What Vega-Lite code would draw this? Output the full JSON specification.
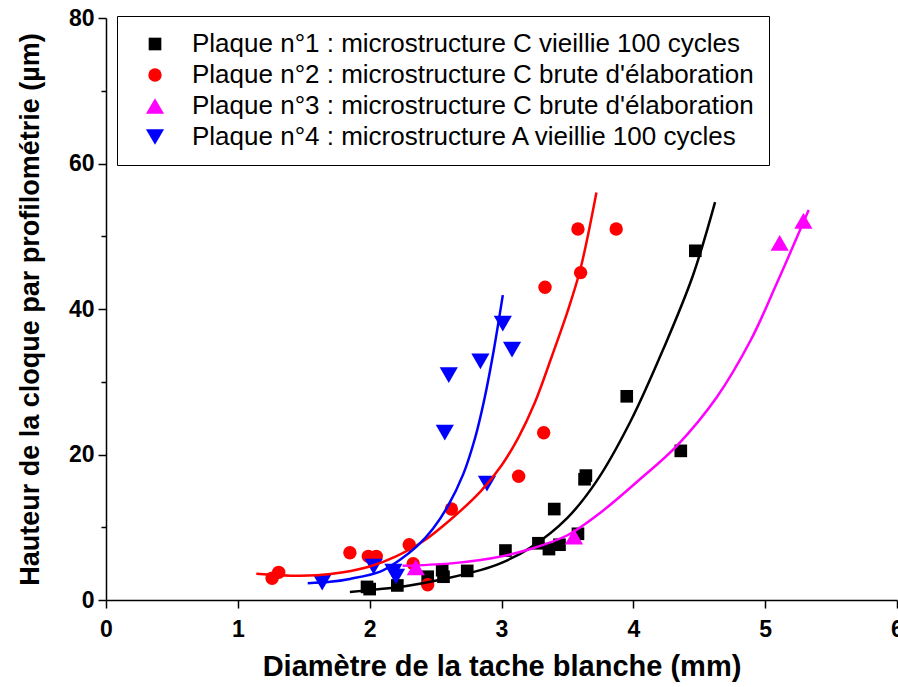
{
  "$schema": "https://vega.github.io/schema/vega-lite/v6.json",
  "width": 791,
  "height": 582,
  "autosize": {"type": "none"},
  "padding": {"left": 106, "top": 18, "right": 1, "bottom": 87},
  "background": "white",
  "config": {
    "view": {"stroke": null},
    "font": "Liberation Sans",
    "axis": {
      "grid": false,
      "domainColor": "black",
      "domainWidth": 1.5,
      "tickColor": "black",
      "tickWidth": 1.5,
      "labelFont": "Liberation Sans",
      "labelFontWeight": "bold",
      "labelFontSize": 23,
      "labelColor": "black",
      "titleFont": "Liberation Sans",
      "titleFontWeight": "bold",
      "titleColor": "black"
    },
    "legend": {
      "orient": "none",
      "legendX": 11,
      "legendY": -2,
      "strokeColor": "black",
      "fillColor": "white",
      "padding": 15,
      "symbolOffset": 10,
      "labelOffset": 24,
      "rowPadding": 5,
      "labelFont": "Liberation Sans",
      "labelFontSize": 26,
      "labelColor": "black",
      "labelLimit": 0,
      "symbolStrokeWidth": 0
    }
  },
  "datasets": {
    "points": [
      {"series": "Plaque n°1 : microstructure C vieillie 100 cycles", "x": 1.98, "y": 1.8},
      {"series": "Plaque n°1 : microstructure C vieillie 100 cycles", "x": 2.0, "y": 1.5},
      {"series": "Plaque n°1 : microstructure C vieillie 100 cycles", "x": 2.21, "y": 2.0},
      {"series": "Plaque n°1 : microstructure C vieillie 100 cycles", "x": 2.44, "y": 3.2},
      {"series": "Plaque n°1 : microstructure C vieillie 100 cycles", "x": 2.55, "y": 4.1},
      {"series": "Plaque n°1 : microstructure C vieillie 100 cycles", "x": 2.56, "y": 3.2},
      {"series": "Plaque n°1 : microstructure C vieillie 100 cycles", "x": 2.74, "y": 4.0},
      {"series": "Plaque n°1 : microstructure C vieillie 100 cycles", "x": 3.03, "y": 6.8},
      {"series": "Plaque n°1 : microstructure C vieillie 100 cycles", "x": 3.28, "y": 7.8},
      {"series": "Plaque n°1 : microstructure C vieillie 100 cycles", "x": 3.36, "y": 7.0},
      {"series": "Plaque n°1 : microstructure C vieillie 100 cycles", "x": 3.44, "y": 7.6},
      {"series": "Plaque n°1 : microstructure C vieillie 100 cycles", "x": 3.58, "y": 9.1},
      {"series": "Plaque n°1 : microstructure C vieillie 100 cycles", "x": 3.4, "y": 12.5},
      {"series": "Plaque n°1 : microstructure C vieillie 100 cycles", "x": 3.63, "y": 16.6},
      {"series": "Plaque n°1 : microstructure C vieillie 100 cycles", "x": 3.64, "y": 17.1},
      {"series": "Plaque n°1 : microstructure C vieillie 100 cycles", "x": 3.95, "y": 28},
      {"series": "Plaque n°1 : microstructure C vieillie 100 cycles", "x": 4.36, "y": 20.5},
      {"series": "Plaque n°1 : microstructure C vieillie 100 cycles", "x": 4.47, "y": 48},
      {"series": "Plaque n°2 : microstructure C brute d'élaboration", "x": 1.26, "y": 3.0},
      {"series": "Plaque n°2 : microstructure C brute d'élaboration", "x": 1.31, "y": 3.8},
      {"series": "Plaque n°2 : microstructure C brute d'élaboration", "x": 1.85, "y": 6.5},
      {"series": "Plaque n°2 : microstructure C brute d'élaboration", "x": 1.99, "y": 6.0},
      {"series": "Plaque n°2 : microstructure C brute d'élaboration", "x": 2.05, "y": 6.0},
      {"series": "Plaque n°2 : microstructure C brute d'élaboration", "x": 2.3, "y": 7.6},
      {"series": "Plaque n°2 : microstructure C brute d'élaboration", "x": 2.33, "y": 5.0},
      {"series": "Plaque n°2 : microstructure C brute d'élaboration", "x": 2.44, "y": 2.1},
      {"series": "Plaque n°2 : microstructure C brute d'élaboration", "x": 2.62, "y": 12.5},
      {"series": "Plaque n°2 : microstructure C brute d'élaboration", "x": 3.13, "y": 17},
      {"series": "Plaque n°2 : microstructure C brute d'élaboration", "x": 3.32, "y": 23},
      {"series": "Plaque n°2 : microstructure C brute d'élaboration", "x": 3.33, "y": 43},
      {"series": "Plaque n°2 : microstructure C brute d'élaboration", "x": 3.58, "y": 51},
      {"series": "Plaque n°2 : microstructure C brute d'élaboration", "x": 3.6, "y": 45},
      {"series": "Plaque n°2 : microstructure C brute d'élaboration", "x": 3.87, "y": 51},
      {"series": "Plaque n°3 : microstructure C brute d'élaboration", "x": 2.35, "y": 4.5},
      {"series": "Plaque n°3 : microstructure C brute d'élaboration", "x": 3.55, "y": 8.7},
      {"series": "Plaque n°3 : microstructure C brute d'élaboration", "x": 5.11, "y": 49.1},
      {"series": "Plaque n°3 : microstructure C brute d'élaboration", "x": 5.29, "y": 52.1},
      {"series": "Plaque n°4 : microstructure A vieillie 100 cycles", "x": 1.64, "y": 2.4},
      {"series": "Plaque n°4 : microstructure A vieillie 100 cycles", "x": 2.03, "y": 4.6},
      {"series": "Plaque n°4 : microstructure A vieillie 100 cycles", "x": 2.18, "y": 3.9},
      {"series": "Plaque n°4 : microstructure A vieillie 100 cycles", "x": 2.2, "y": 3.2},
      {"series": "Plaque n°4 : microstructure A vieillie 100 cycles", "x": 2.57, "y": 23},
      {"series": "Plaque n°4 : microstructure A vieillie 100 cycles", "x": 2.6, "y": 30.9},
      {"series": "Plaque n°4 : microstructure A vieillie 100 cycles", "x": 2.84, "y": 32.8},
      {"series": "Plaque n°4 : microstructure A vieillie 100 cycles", "x": 2.89, "y": 16},
      {"series": "Plaque n°4 : microstructure A vieillie 100 cycles", "x": 3.01, "y": 38},
      {"series": "Plaque n°4 : microstructure A vieillie 100 cycles", "x": 3.08, "y": 34.4}
    ],
    "fits": [
      {"series": "Plaque n°1 : microstructure C vieillie 100 cycles", "x": 1.85, "y": 1.1},
      {"series": "Plaque n°1 : microstructure C vieillie 100 cycles", "x": 2.08, "y": 1.5},
      {"series": "Plaque n°1 : microstructure C vieillie 100 cycles", "x": 2.23, "y": 1.8},
      {"series": "Plaque n°1 : microstructure C vieillie 100 cycles", "x": 2.59, "y": 3.0},
      {"series": "Plaque n°1 : microstructure C vieillie 100 cycles", "x": 2.84, "y": 4.1},
      {"series": "Plaque n°1 : microstructure C vieillie 100 cycles", "x": 3.0, "y": 5.1},
      {"series": "Plaque n°1 : microstructure C vieillie 100 cycles", "x": 3.22, "y": 7.2},
      {"series": "Plaque n°1 : microstructure C vieillie 100 cycles", "x": 3.5, "y": 11.3},
      {"series": "Plaque n°1 : microstructure C vieillie 100 cycles", "x": 3.72, "y": 16.3},
      {"series": "Plaque n°1 : microstructure C vieillie 100 cycles", "x": 3.98, "y": 24.6},
      {"series": "Plaque n°1 : microstructure C vieillie 100 cycles", "x": 4.23, "y": 34.6},
      {"series": "Plaque n°1 : microstructure C vieillie 100 cycles", "x": 4.45, "y": 44.5},
      {"series": "Plaque n°1 : microstructure C vieillie 100 cycles", "x": 4.62, "y": 54.7},
      {"series": "Plaque n°2 : microstructure C brute d'élaboration", "x": 1.14, "y": 3.6},
      {"series": "Plaque n°2 : microstructure C brute d'élaboration", "x": 1.4, "y": 3.35},
      {"series": "Plaque n°2 : microstructure C brute d'élaboration", "x": 1.6, "y": 3.4},
      {"series": "Plaque n°2 : microstructure C brute d'élaboration", "x": 1.8, "y": 3.8},
      {"series": "Plaque n°2 : microstructure C brute d'élaboration", "x": 2.0, "y": 4.6},
      {"series": "Plaque n°2 : microstructure C brute d'élaboration", "x": 2.2, "y": 6.0},
      {"series": "Plaque n°2 : microstructure C brute d'élaboration", "x": 2.4, "y": 8.0},
      {"series": "Plaque n°2 : microstructure C brute d'élaboration", "x": 2.61, "y": 11},
      {"series": "Plaque n°2 : microstructure C brute d'élaboration", "x": 2.84, "y": 14.9},
      {"series": "Plaque n°2 : microstructure C brute d'élaboration", "x": 3.0, "y": 18.5},
      {"series": "Plaque n°2 : microstructure C brute d'élaboration", "x": 3.13, "y": 22.4},
      {"series": "Plaque n°2 : microstructure C brute d'élaboration", "x": 3.25, "y": 27},
      {"series": "Plaque n°2 : microstructure C brute d'élaboration", "x": 3.38, "y": 33.4},
      {"series": "Plaque n°2 : microstructure C brute d'élaboration", "x": 3.5, "y": 39.6},
      {"series": "Plaque n°2 : microstructure C brute d'élaboration", "x": 3.6, "y": 45.6},
      {"series": "Plaque n°2 : microstructure C brute d'élaboration", "x": 3.72, "y": 56},
      {"series": "Plaque n°3 : microstructure C brute d'élaboration", "x": 2.25, "y": 4.7},
      {"series": "Plaque n°3 : microstructure C brute d'élaboration", "x": 2.6, "y": 5.0},
      {"series": "Plaque n°3 : microstructure C brute d'élaboration", "x": 2.84, "y": 5.5},
      {"series": "Plaque n°3 : microstructure C brute d'élaboration", "x": 3.0, "y": 6.0},
      {"series": "Plaque n°3 : microstructure C brute d'élaboration", "x": 3.2, "y": 6.9},
      {"series": "Plaque n°3 : microstructure C brute d'élaboration", "x": 3.5, "y": 8.9},
      {"series": "Plaque n°3 : microstructure C brute d'élaboration", "x": 3.75, "y": 12},
      {"series": "Plaque n°3 : microstructure C brute d'élaboration", "x": 4.05, "y": 16.6},
      {"series": "Plaque n°3 : microstructure C brute d'élaboration", "x": 4.33, "y": 21.2},
      {"series": "Plaque n°3 : microstructure C brute d'élaboration", "x": 4.63, "y": 27.8},
      {"series": "Plaque n°3 : microstructure C brute d'élaboration", "x": 4.89, "y": 35.7},
      {"series": "Plaque n°3 : microstructure C brute d'élaboration", "x": 5.09, "y": 43.6},
      {"series": "Plaque n°3 : microstructure C brute d'élaboration", "x": 5.33, "y": 53.6},
      {"series": "Plaque n°4 : microstructure A vieillie 100 cycles", "x": 1.53, "y": 2.3},
      {"series": "Plaque n°4 : microstructure A vieillie 100 cycles", "x": 1.7, "y": 2.5},
      {"series": "Plaque n°4 : microstructure A vieillie 100 cycles", "x": 1.85, "y": 2.9},
      {"series": "Plaque n°4 : microstructure A vieillie 100 cycles", "x": 2.08, "y": 3.9},
      {"series": "Plaque n°4 : microstructure A vieillie 100 cycles", "x": 2.22, "y": 5.4},
      {"series": "Plaque n°4 : microstructure A vieillie 100 cycles", "x": 2.36, "y": 7.4},
      {"series": "Plaque n°4 : microstructure A vieillie 100 cycles", "x": 2.48, "y": 9.8},
      {"series": "Plaque n°4 : microstructure A vieillie 100 cycles", "x": 2.59, "y": 12.8},
      {"series": "Plaque n°4 : microstructure A vieillie 100 cycles", "x": 2.71, "y": 17.3},
      {"series": "Plaque n°4 : microstructure A vieillie 100 cycles", "x": 2.8, "y": 22.3},
      {"series": "Plaque n°4 : microstructure A vieillie 100 cycles", "x": 2.87, "y": 27.6},
      {"series": "Plaque n°4 : microstructure A vieillie 100 cycles", "x": 2.94, "y": 34.2},
      {"series": "Plaque n°4 : microstructure A vieillie 100 cycles", "x": 3.01, "y": 41.9}
    ]
  },
  "layer": [
    {
      "data": {"name": "points"},
      "mark": {"type": "point", "filled": true, "opacity": 1, "strokeWidth": 0},
      "encoding": {
        "x": {
          "field": "x", "type": "quantitative",
          "scale": {"domain": [0, 6], "nice": false, "zero": false},
          "axis": {
            "title": "Diamètre de la tache blanche (mm)",
            "titleFontSize": 29,
            "values": [0, 0.5, 1, 1.5, 2, 2.5, 3, 3.5, 4, 4.5, 5, 5.5, 6],
            "format": "d",
            "labelExpr": "datum.value % 1 === 0 ? datum.label : ''",
            "tickSize": {"condition": {"test": "datum.value % 1 === 0", "value": 8}, "value": 5},
            "labelFlush": false,
            "labelOverlap": false,
            "labelPadding": 10,
            "titlePadding": 11
          }
        },
        "y": {
          "field": "y", "type": "quantitative",
          "scale": {"domain": [0, 80], "nice": false, "zero": false},
          "axis": {
            "title": "Hauteur de la cloque par profilométrie (µm)",
            "titleFontSize": 27,
            "values": [0, 10, 20, 30, 40, 50, 60, 70, 80],
            "labelExpr": "datum.value % 20 === 0 ? datum.label : ''",
            "tickSize": {"condition": {"test": "datum.value % 20 === 0", "value": 8}, "value": 5},
            "labelFlush": false,
            "labelOverlap": false,
            "labelPadding": 4,
            "titlePadding": 24
          }
        },
        "size": {
          "field": "series", "type": "nominal",
          "scale": {
            "type": "ordinal",
            "domain": [
              "Plaque n°1 : microstructure C vieillie 100 cycles",
              "Plaque n°2 : microstructure C brute d'élaboration",
              "Plaque n°3 : microstructure C brute d'élaboration",
              "Plaque n°4 : microstructure A vieillie 100 cycles"
            ],
            "range": [160, 180, 330, 330]
          },
          "legend": {"title": null}
        },
        "color": {
          "field": "series", "type": "nominal",
          "scale": {
            "domain": [
              "Plaque n°1 : microstructure C vieillie 100 cycles",
              "Plaque n°2 : microstructure C brute d'élaboration",
              "Plaque n°3 : microstructure C brute d'élaboration",
              "Plaque n°4 : microstructure A vieillie 100 cycles"
            ],
            "range": ["#000000", "#FF0000", "#FF00FF", "#0000FF"]
          },
          "legend": {"title": null}
        },
        "shape": {
          "field": "series", "type": "nominal",
          "scale": {
            "domain": [
              "Plaque n°1 : microstructure C vieillie 100 cycles",
              "Plaque n°2 : microstructure C brute d'élaboration",
              "Plaque n°3 : microstructure C brute d'élaboration",
              "Plaque n°4 : microstructure A vieillie 100 cycles"
            ],
            "range": ["square", "circle", "triangle-up", "triangle-down"]
          },
          "legend": {"title": null}
        }
      }
    },
    {
      "data": {"name": "fits"},
      "mark": {"type": "line", "strokeWidth": 2.5, "interpolate": "catmull-rom"},
      "encoding": {
        "x": {"field": "x", "type": "quantitative"},
        "y": {"field": "y", "type": "quantitative"},
        "color": {"field": "series", "type": "nominal", "legend": null},
        "detail": {"field": "series", "type": "nominal"}
      }
    }
  ]
}
